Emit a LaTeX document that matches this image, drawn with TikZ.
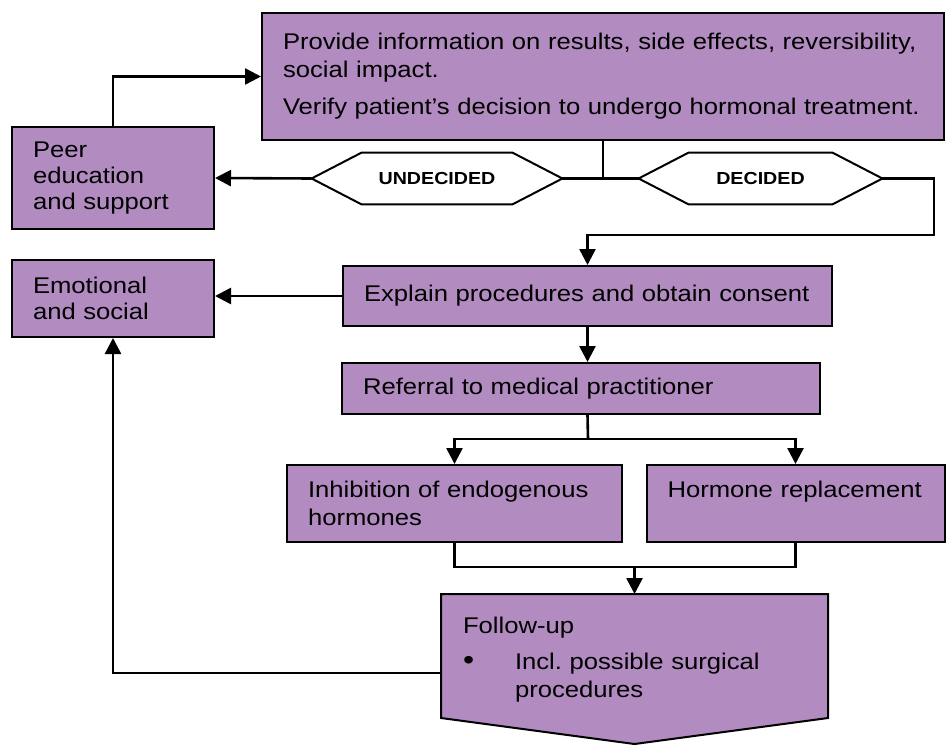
\documentclass[tikz,border=0pt]{standalone}
\usepackage{fontspec}
\setmainfont{Liberation Sans}[FakeStretch=1.13]
\usetikzlibrary{arrows.meta,backgrounds,calc}

\definecolor{lilac}{RGB}{178,140,192}
\hyphenpenalty=10000
\frenchspacing

\tikzset{
  box/.style={draw, line width=1pt, fill=lilac, align=left, inner xsep=10.5pt, inner ysep=0pt,
    font=\fontsize{11.35}{14}\selectfont},
  choice/.style={minimum height=25.5pt, inner sep=0pt, font=\bfseries\fontsize{8.7}{10}\selectfont},
  link/.style={line width=1.3pt},
  arr/.style={link, -{Triangle[length=8pt,width=8pt]}},
}

\begin{document}
\begin{tikzpicture}[x=0.5pt, y=-0.5pt]
  \useasboundingbox (0,0) rectangle (946,744);

  % information and decision
  \node[box, text width=320pt, minimum height=63.5pt] (info) at (603,76.5)
    {Provide information on results, side effects, reversibility,\\ social impact.\\[4.5pt]
     Verify patient’s decision to undergo hormonal treatment.};
  \node[choice, minimum width=125pt] (undecided) at (437,178.5) {UNDECIDED};
  \node[choice, minimum width=121.5pt] (decided) at (760.5,178.5) {DECIDED};
  \foreach \n in {undecided,decided}
    \draw[line width=1pt] (\n.west) -- ([xshift=25pt]\n.north west) -- ([xshift=-25pt]\n.north east)
      -- (\n.east) -- ([xshift=-25pt]\n.south east) -- ([xshift=25pt]\n.south west) -- cycle;

  % support on the left
  \node[box, text width=80pt, minimum height=51pt, font=\fontsize{11.35}{13}\selectfont] (peer) at (113,178)
    {Peer\\ education\\ and support};
  \node[box, text width=80pt, minimum height=38.5pt, font=\fontsize{11.35}{13}\selectfont] (emotional) at (113,298.5)
    {Emotional\\ and social};

  % treatment line
  \node[box, text width=223.5pt, minimum height=30pt] (explain) at (587.5,296) {Explain procedures and obtain consent};
  \node[box, text width=218pt, minimum height=25.5pt] (referral) at (581,388.5) {Referral to medical practitioner};
  \node[box, text width=146.5pt, minimum height=38.5pt] (inhibition) at (454.5,503.5) {Inhibition of endogenous\\ hormones};
  \node[box, text width=128pt, minimum height=38.5pt, text depth=14pt] (hormone) at (795.5,503.5) {Hormone~replacement};

  % follow-up, pointed at the bottom
  \node[box, draw=none, fill=none, text width=171.5pt, minimum height=61pt] (followup) at (634.5,656)
    {\begin{tabular}{@{}p{26pt}@{}l@{}}
       \multicolumn{2}{@{}l@{}}{\rule{0pt}{13.8pt}Follow-up}\\[4pt]
       {\fontsize{14}{14}\selectfont\textbullet} & Incl. possible surgical\\
                   & procedures
     \end{tabular}};
  \coordinate (tip) at ($(followup.south)+(0,26)$);
  \begin{scope}[on background layer]
    \filldraw[fill=lilac, line width=1pt] (followup.north west) -- (followup.north east)
      -- (followup.south east) -- (tip) -- (followup.south west) -- cycle;
  \end{scope}

  % connectors
  \draw[arr] (peer.north) |- (info.west);
  \draw[link] (info.south) -- (info.south |- undecided.east);
  \draw[link] (undecided.east) -- (decided.west);
  \draw[arr] (undecided.west) -- (peer.east);

  \coordinate (turn) at (934,235);    % helper
  \draw[arr] (decided.east) -| (turn) -| (explain.north);
  \draw[arr] (explain.west) -- (explain.west -| emotional.east);
  \draw[arr] (explain.south) -- (explain.south |- referral.north);

  \coordinate (split) at (588,439);   % helper
  \draw[link] (explain.south |- referral.south) -- (split);
  \draw[arr] (split) -| (inhibition.north);
  \draw[arr] (split) -| (hormone.north);

  \coordinate (merge) at (634.5,567); % helper
  \draw[link] (inhibition.south) |- (merge) -| (hormone.south);
  \draw[arr] (merge) -- (followup.north);
  \draw[arr] ([yshift=-8.5pt]followup.west) -| (emotional.south);
\end{tikzpicture}
\end{document}
